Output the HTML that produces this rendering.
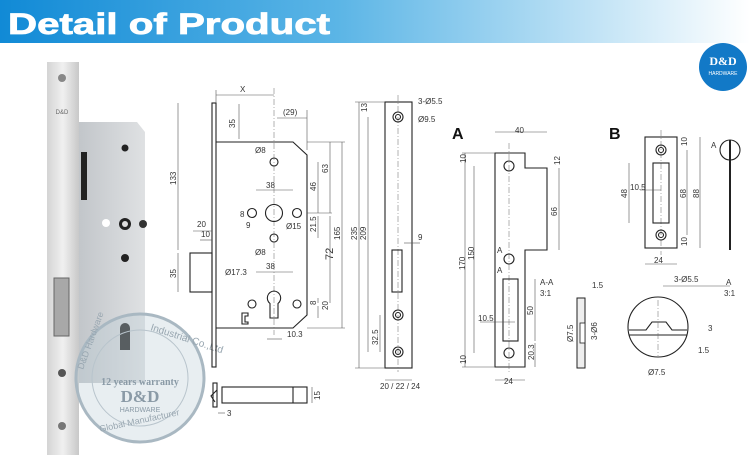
<!DOCTYPE html>
<html><head><meta charset="utf-8"><style>
html,body{margin:0;padding:0;background:#fff;width:750px;height:464px;overflow:hidden}
svg{display:block;font-family:"Liberation Sans",sans-serif}
.t{font-size:8px;fill:#333}
.l{stroke:#222;stroke-width:1.1;fill:none}
.d{stroke:#555;stroke-width:0.6;fill:none}
.c{stroke:#666;stroke-width:0.5;stroke-dasharray:6 2 1 2;fill:none}
</style></head><body>
<svg width="750" height="464" viewBox="0 0 750 464">
<defs>
<linearGradient id="hg" x1="0" x2="1"><stop offset="0" stop-color="#118ad6"/><stop offset="0.45" stop-color="#5bb5e6"/><stop offset="1" stop-color="#ffffff"/></linearGradient>
<linearGradient id="fp" x1="0" x2="1"><stop offset="0" stop-color="#d4d4d4"/><stop offset="0.5" stop-color="#f0f0f0"/><stop offset="1" stop-color="#c8c8c8"/></linearGradient>
<linearGradient id="bd" x1="0" x2="1"><stop offset="0" stop-color="#c2c6ca"/><stop offset="1" stop-color="#dfe1e3"/></linearGradient>
</defs>
<rect x="0" y="0" width="750" height="43" fill="url(#hg)"/>
<text x="8" y="34" font-size="30" font-weight="bold" fill="#fff" textLength="322" lengthAdjust="spacingAndGlyphs" stroke="#fff" stroke-width="0.8">Detail of Product</text>
<circle cx="723" cy="67" r="24" fill="#1279c7"/>
<text x="723" y="65" font-size="12" font-weight="bold" fill="#fff" text-anchor="middle" font-family="Liberation Serif">D&amp;D</text>
<text x="723" y="75" font-size="5" fill="#fff" text-anchor="middle">HARDWARE</text>

<!-- photo -->
<path d="M79 122 L137 122 L145 132 L145 383 L79 383Z" fill="url(#bd)"/>
<rect x="47" y="62" width="32" height="393" fill="url(#fp)"/>
<circle cx="62" cy="78" r="4" fill="#888"/><circle cx="62" cy="373" r="4" fill="#555"/><circle cx="62" cy="426" r="4" fill="#777"/>
<text x="62" y="114" font-size="6" fill="#666" text-anchor="middle">D&amp;D</text>
<rect x="54" y="278" width="15" height="58" fill="#a8a8a8" stroke="#666"/>
<rect x="81" y="152" width="6" height="48" fill="#222"/>
<circle cx="125" cy="148" r="3.5" fill="#222"/>
<circle cx="125" cy="224" r="6" fill="#222"/><circle cx="125" cy="224" r="3" fill="#ddd"/>
<circle cx="106" cy="223" r="4" fill="#fff"/><circle cx="143" cy="224" r="4" fill="#333"/>
<circle cx="125" cy="258" r="4" fill="#222"/>
<path d="M125 323 a5 5 0 0 1 5 5 v22 h-10 v-22 a5 5 0 0 1 5 -5z" fill="#222"/>
<!-- watermark -->
<circle cx="140" cy="378" r="64" fill="rgba(190,205,215,0.35)" stroke="#a9b8c2" stroke-width="3"/>
<circle cx="140" cy="378" r="48" fill="none" stroke="#b8c4cc" stroke-width="1"/>
<text x="140" y="385" font-size="10" font-weight="bold" fill="#8a9aa6" text-anchor="middle" font-family="Liberation Serif">12 years warranty</text>
<text x="140" y="402" font-size="17" font-weight="bold" fill="#8a9aa6" text-anchor="middle" font-family="Liberation Serif">D&amp;D</text>
<text x="140" y="412" font-size="7" fill="#8a9aa6" text-anchor="middle">HARDWARE</text>
<text x="150" y="330" font-size="10" fill="#98a6b0" transform="rotate(18 150 330)">Industrial Co.,Ltd</text>
<text x="100" y="432" font-size="9" fill="#98a6b0" transform="rotate(-12 100 432)">Global Manufacturer</text>
<text x="83" y="370" font-size="9" fill="#98a6b0" transform="rotate(-70 83 370)">D&amp;D Hardware</text>

<!-- lock body drawing -->
<rect x="212" y="103" width="4" height="264" class="l"/>
<path d="M216 142 H293 L307 155 V315 L293 328 H216" class="l"/>
<line x1="274" y1="88" x2="274" y2="335" class="c"/>
<circle cx="274" cy="162" r="4" class="l"/>
<circle cx="252" cy="213" r="4.5" class="l"/><circle cx="274" cy="213" r="8.5" class="l"/><circle cx="297" cy="213" r="4.5" class="l"/>
<circle cx="274" cy="238" r="4" class="l"/>
<path d="M274 291 a7 7 0 0 1 4 12.5 V318 H270 V303.5 a7 7 0 0 1 4 -12.5z" class="l"/>
<circle cx="252" cy="304" r="4" class="l"/><circle cx="297" cy="304" r="4" class="l"/>
<path d="M242 313 h6 v3 h-3 v6 h3 v2 h-6z" class="l"/>
<rect x="190" y="253" width="22" height="39" class="l"/>
<rect x="222" y="387" width="85" height="16" class="l"/><line x1="293" y1="387" x2="293" y2="403" class="l"/>
<rect x="213" y="383" width="4" height="24" class="l"/>
<path d="M217 390 l-6 6 l4 6" class="l"/>
<g class="d">
<line x1="216" y1="95" x2="274" y2="95"/><line x1="216" y1="90" x2="216" y2="103"/>
<line x1="178" y1="103" x2="178" y2="250"/><line x1="178" y1="253" x2="178" y2="292"/>
<line x1="239" y1="104" x2="239" y2="139"/><line x1="277" y1="118" x2="307" y2="118"/>
<line x1="307" y1="110" x2="307" y2="150"/>
<line x1="318" y1="162" x2="318" y2="213"/><line x1="330" y1="142" x2="330" y2="213"/>
<line x1="342" y1="142" x2="342" y2="328"/><line x1="330" y1="216" x2="330" y2="303"/>
<line x1="318" y1="216" x2="318" y2="238"/><line x1="318" y1="298" x2="318" y2="303"/><line x1="318" y1="306" x2="318" y2="318"/>
<line x1="307" y1="213" x2="332" y2="213"/><line x1="307" y1="328" x2="345" y2="328"/><line x1="307" y1="142" x2="345" y2="142"/>
<line x1="256" y1="190" x2="293" y2="190"/><line x1="256" y1="272" x2="293" y2="272"/>
<line x1="193" y1="231" x2="212" y2="231"/><line x1="200" y1="240" x2="212" y2="240"/>
<line x1="267" y1="339" x2="282" y2="339"/><line x1="218" y1="413" x2="225" y2="413"/>
<line x1="312" y1="387" x2="312" y2="403"/>
</g>
<g class="t">
<text x="240" y="92">X</text><text x="235" y="128" transform="rotate(-90 235 128)">35</text>
<text x="283" y="115">(29)</text><text x="176" y="185" transform="rotate(-90 176 185)">133</text>
<text x="176" y="278" transform="rotate(-90 176 278)">35</text><text x="255" y="153">Ø8</text>
<text x="266" y="188">38</text><text x="240" y="217">8</text><text x="246" y="228">9</text>
<text x="286" y="229">Ø15</text><text x="255" y="255">Ø8</text><text x="197" y="227">20</text><text x="201" y="237">10</text>
<text x="225" y="275">Ø17.3</text><text x="266" y="269">38</text>
<text x="316" y="191" transform="rotate(-90 316 191)">46</text><text x="328" y="173" transform="rotate(-90 328 173)">63</text>
<text x="316" y="232" transform="rotate(-90 316 232)">21.5</text><text x="340" y="240" transform="rotate(-90 340 240)">165</text>
<text x="333" y="260" font-size="11" transform="rotate(-90 333 260)">72</text>
<text x="316" y="305" transform="rotate(-90 316 305)">8</text><text x="328" y="310" transform="rotate(-90 328 310)">20</text>
<text x="287" y="337">10.3</text><text x="227" y="416">3</text><text x="320" y="400" transform="rotate(-90 320 400)">15</text>
</g>
<!-- faceplate -->
<rect x="385" y="102" width="27" height="266" class="l"/>
<line x1="398" y1="95" x2="398" y2="372" class="c"/>
<circle cx="398" cy="117" r="5" class="l"/><circle cx="398" cy="117" r="2.5" class="l"/>
<circle cx="398" cy="315" r="5" class="l"/><circle cx="398" cy="315" r="2.5" class="l"/>
<circle cx="398" cy="352" r="5" class="l"/><circle cx="398" cy="352" r="2.5" class="l"/>
<rect x="392" y="250" width="10" height="42" class="l"/>
<g class="d"><line x1="359" y1="102" x2="359" y2="368"/><line x1="368" y1="117" x2="368" y2="352"/>
<line x1="380" y1="315" x2="380" y2="352"/><line x1="385" y1="380" x2="412" y2="380"/><line x1="404" y1="243" x2="420" y2="243"/>
<line x1="355" y1="102" x2="385" y2="102"/><line x1="355" y1="368" x2="385" y2="368"/></g>
<g class="t"><text x="418" y="104">3-Ø5.5</text><text x="418" y="122">Ø9.5</text><text x="367" y="112" transform="rotate(-90 367 112)">13</text>
<text x="357" y="240" transform="rotate(-90 357 240)">235</text><text x="366" y="240" transform="rotate(-90 366 240)">209</text>
<text x="418" y="240">9</text><text x="378" y="345" transform="rotate(-90 378 345)">32.5</text><text x="380" y="389">20 / 22 / 24</text></g>

<!-- strike A -->
<text x="452" y="139" font-size="16" font-weight="bold" fill="#111">A</text>
<path d="M495 153 H525 V168 H547 V250 H525 V367 H495Z" class="l"/>
<line x1="509" y1="143" x2="509" y2="372" class="c"/>
<circle cx="509" cy="166" r="5" class="l"/><circle cx="509" cy="259" r="5" class="l"/><circle cx="509" cy="353" r="5" class="l"/>
<rect x="503" y="279" width="15" height="62" class="l"/>
<g class="d"><line x1="495" y1="132" x2="547" y2="132"/><line x1="465" y1="153" x2="465" y2="367"/><line x1="474" y1="166" x2="474" y2="353"/>
<line x1="559" y1="168" x2="559" y2="250"/><line x1="535" y1="279" x2="535" y2="341"/><line x1="535" y1="343" x2="535" y2="367"/>
<line x1="495" y1="380" x2="525" y2="380"/><line x1="480" y1="322" x2="515" y2="322"/>
<line x1="462" y1="153" x2="495" y2="153"/><line x1="462" y1="367" x2="495" y2="367"/></g>
<g class="t"><text x="515" y="133">40</text><text x="466" y="163" transform="rotate(-90 466 163)">10</text>
<text x="465" y="270" transform="rotate(-90 465 270)">170</text><text x="474" y="260" transform="rotate(-90 474 260)">150</text>
<text x="560" y="165" transform="rotate(-90 560 165)">12</text><text x="557" y="216" transform="rotate(-90 557 216)">66</text>
<text x="497" y="253">A</text><text x="497" y="273">A</text><text x="540" y="285">A-A</text><text x="540" y="296">3:1</text>
<text x="533" y="315" transform="rotate(-90 533 315)">50</text><text x="478" y="321">10.5</text>
<text x="466" y="364" transform="rotate(-90 466 364)">10</text><text x="534" y="360" transform="rotate(-90 534 360)">20.3</text><text x="504" y="384">24</text>
<text x="592" y="288">1.5</text><text x="573" y="342" transform="rotate(-90 573 342)">Ø7.5</text><text x="597" y="340" transform="rotate(-90 597 340)">3-Ø6</text></g>
<rect x="577" y="298" width="8" height="70" fill="#eee" stroke="#222"/>
<rect x="580" y="323" width="5" height="20" fill="#fff" stroke="#222" stroke-width="0.8"/>

<!-- strike B -->
<text x="609" y="139" font-size="16" font-weight="bold" fill="#111">B</text>
<rect x="645" y="137" width="32" height="111" class="l"/>
<line x1="661" y1="130" x2="661" y2="255" class="c"/>
<circle cx="661" cy="150" r="5" class="l"/><circle cx="661" cy="150" r="2.5" class="l"/>
<circle cx="661" cy="235" r="5" class="l"/><circle cx="661" cy="235" r="2.5" class="l"/>
<rect x="653" y="163" width="16" height="60" class="l"/>
<g class="d"><line x1="629" y1="163" x2="629" y2="223"/><line x1="687" y1="150" x2="687" y2="235"/><line x1="700" y1="137" x2="700" y2="248"/>
<line x1="645" y1="264" x2="677" y2="264"/><line x1="640" y1="190" x2="661" y2="190"/></g>
<g class="t"><text x="627" y="198" transform="rotate(-90 627 198)">48</text><text x="630" y="190">10.5</text>
<text x="686" y="198" transform="rotate(-90 686 198)">68</text><text x="699" y="198" transform="rotate(-90 699 198)">88</text>
<text x="687" y="146" transform="rotate(-90 687 146)">10</text><text x="687" y="246" transform="rotate(-90 687 246)">10</text>
<text x="654" y="263">24</text><text x="711" y="148">A</text><text x="726" y="285">A</text><text x="724" y="296">3:1</text>
<text x="674" y="282">3-Ø5.5</text><text x="708" y="331">3</text><text x="698" y="353">1.5</text><text x="648" y="375">Ø7.5</text></g>
<line x1="730" y1="140" x2="730" y2="250" stroke="#222" stroke-width="2"/>
<circle cx="730" cy="150" r="10" class="l"/>
<circle cx="658" cy="327" r="30" class="l"/>
<path d="M629 330 H646 L652 322 H666 L672 330 H687 M629 335 H687" class="l"/>
<line x1="658" y1="300" x2="658" y2="356" class="c"/>
<line x1="663" y1="286" x2="730" y2="286" class="d"/>
</svg>
</body></html>
